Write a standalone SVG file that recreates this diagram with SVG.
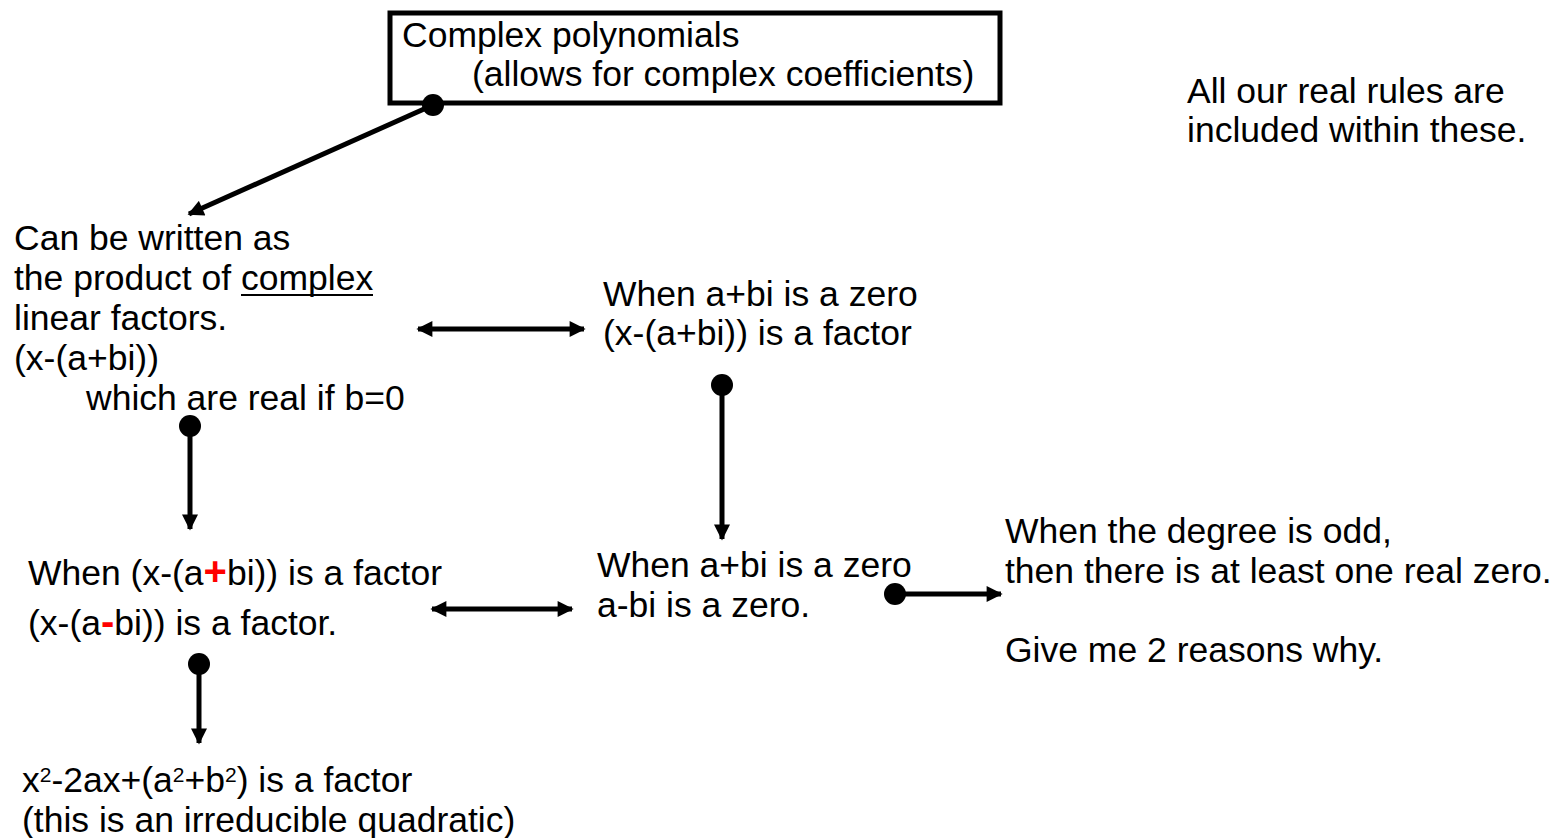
<svg xmlns="http://www.w3.org/2000/svg" width="1556" height="838" viewBox="0 0 1556 838">
<defs>
<style>
text{font-family:"Liberation Sans",Arial,sans-serif;font-size:35.5px;fill:#000}
.ln{stroke:#000;stroke-width:5;fill:none}
.red{fill:#ff0000;font-weight:bold;font-size:40px}
.sup{font-size:21px}
</style>
<marker id="ah" viewBox="0 0 10 10" refX="9" refY="5" markerWidth="3.4" markerHeight="3.2" orient="auto" markerUnits="strokeWidth">
<path d="M0,0 L10,5 L0,10 Z" fill="#000"/>
</marker>
<marker id="as" viewBox="0 0 10 10" refX="1" refY="5" markerWidth="3.4" markerHeight="3.2" orient="auto" markerUnits="strokeWidth">
<path d="M10,0 L0,5 L10,10 Z" fill="#000"/>
</marker>
</defs>
<rect width="1556" height="838" fill="#fff"/>
<g id="n-top">
<rect x="390" y="13" width="610" height="90" fill="none" stroke="#000" stroke-width="5"/>
<text x="402" y="47">Complex polynomials</text>
<text x="472" y="86">(allows for complex coefficients)</text>
</g>
<g id="n-note">
<text x="1187" y="103">All our real rules are</text>
<text x="1187" y="142">included within these.</text>
</g>
<g id="n-product">
<text x="14" y="250">Can be written as</text>
<text x="14" y="290">the product of complex</text>
<line x1="241" y1="295" x2="373" y2="295" stroke="#000" stroke-width="2"/>
<text x="14" y="330">linear factors.</text>
<text x="14" y="370">(x-(a+bi))</text>
<text x="86" y="410">which are real if b=0</text>
</g>
<g id="n-zero1">
<text x="603" y="306">When a+bi is a zero</text>
<text x="603" y="345">(x-(a+bi)) is a factor</text>
</g>
<g id="n-conj">
<text x="28" y="585">When (x-(a<tspan class="red">+</tspan>bi)) is a factor</text>
<text x="28" y="635">(x-(a<tspan class="red">-</tspan>bi)) is a factor.</text>
</g>
<g id="n-zero2">
<text x="597" y="577">When a+bi is a zero</text>
<text x="597" y="617">a-bi is a zero.</text>
</g>
<g id="n-odd">
<text x="1005" y="543">When the degree is odd,</text>
<text x="1005" y="583">then there is at least one real zero.</text>
<text x="1005" y="662">Give me 2 reasons why.</text>
</g>
<g id="n-quad">
<text x="22" y="792">x<tspan class="sup" dy="-10">2</tspan><tspan dy="10">-2ax+(a</tspan><tspan class="sup" dy="-10">2</tspan><tspan dy="10">+b</tspan><tspan class="sup" dy="-10">2</tspan><tspan dy="10">) is a factor</tspan></text>
<text x="22" y="832">(this is an irreducible quadratic)</text>
</g>
<g id="connectors">
<circle cx="433" cy="105" r="11"/>
<line class="ln" x1="433" y1="105" x2="189" y2="214" marker-end="url(#ah)"/>
<line class="ln" x1="418" y1="329" x2="584" y2="329" marker-start="url(#as)" marker-end="url(#ah)"/>
<circle cx="190" cy="426" r="11"/>
<line class="ln" x1="190" y1="426" x2="190" y2="529" marker-end="url(#ah)"/>
<circle cx="722" cy="385" r="11"/>
<line class="ln" x1="722" y1="385" x2="722" y2="539" marker-end="url(#ah)"/>
<line class="ln" x1="432" y1="609" x2="572" y2="609" marker-start="url(#as)" marker-end="url(#ah)"/>
<circle cx="895" cy="594" r="11"/>
<line class="ln" x1="895" y1="594" x2="1001" y2="594" marker-end="url(#ah)"/>
<circle cx="199" cy="664" r="11"/>
<line class="ln" x1="199" y1="664" x2="199" y2="743" marker-end="url(#ah)"/>
</g>
</svg>
